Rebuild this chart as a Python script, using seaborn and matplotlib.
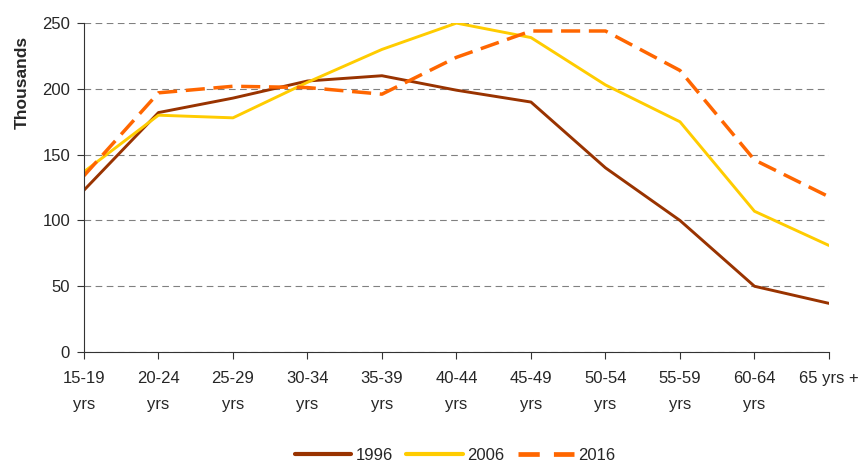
import matplotlib
matplotlib.use("Agg")
import matplotlib.pyplot as plt
import seaborn as sns
import pandas as pd

# Data (thousands)
age_groups = ["15-19\nyrs", "20-24\nyrs", "25-29\nyrs", "30-34\nyrs", "35-39\nyrs",
              "40-44\nyrs", "45-49\nyrs", "50-54\nyrs", "55-59\nyrs", "60-64\nyrs", "65 yrs +"]
pop_1996 = [123, 182, 193, 206, 210, 199, 190, 140, 100, 50, 37]
pop_2006 = [137, 180, 178, 205, 230, 250, 239, 203, 175, 107, 81]
pop_2016 = [134, 197, 202, 201, 196, 224, 244, 244, 214, 146, 118]
years = ["1996", "2006", "2016"]

df = pd.DataFrame({
    "age": age_groups * 3,
    "value": pop_1996 + pop_2006 + pop_2016,
    "year": [y for y in years for _ in age_groups],
})

sns.set_style("white")
plt.rcParams['font.family'] = ['Liberation Sans', 'DejaVu Sans']

fig = plt.figure(figsize=(8.62, 4.62), dpi=100)
ax = fig.add_axes([0.0974, 0.238, 0.8643, 0.712])

palette = {"1996": "#993300", "2006": "#FFCC00", "2016": "#FF6600"}
dashes = {"1996": "", "2006": "", "2016": (5.5, 2.5)}
sns.lineplot(data=df, x="age", y="value", hue="year", style="year",
             palette=palette, dashes=dashes, sort=False, linewidth=2.1,
             ax=ax, legend=False)
ax.get_lines()[2].set_linewidth(2.5)

ax.set_xlim(0, len(age_groups) - 1)
ax.set_ylim(0, 250)
ax.set_yticks(range(0, 251, 50))
ax.set_xticks(range(len(age_groups)))
ax.set_xticklabels(age_groups, linespacing=1.9, va="top")
ax.set_xlabel("")
ax.set_ylabel("Thousands", fontsize=12.5, fontweight="bold")
ax.yaxis.set_label_coords(-0.073, 0.82)

ax.yaxis.grid(True, linestyle=(0, (6, 4)), color="#808080", linewidth=0.8)
ax.xaxis.grid(False)
for side in ["top", "right"]:
    ax.spines[side].set_visible(False)
ax.spines["left"].set_color("#333333")
ax.spines["bottom"].set_color("#333333")
ax.tick_params(axis="both", which="both", direction="out", length=5,
               color="#333333", labelsize=12, left=True, bottom=True)
ax.tick_params(axis="x", pad=9)
ax.tick_params(axis="y", pad=5)

handles = [plt.Line2D([], [], color=palette[y], linewidth=3 if y != "2016" else 3.4,
                      linestyle="-" if y != "2016" else (0, (4.5, 3))) for y in years]
fig.legend(handles, years, loc="center", bbox_to_anchor=(0.528, 0.014), ncol=3,
           frameon=False, fontsize=12, handlelength=3.4, handletextpad=0.25,
           columnspacing=0.8, borderaxespad=0)

fig.savefig("out.png", dpi=100)
